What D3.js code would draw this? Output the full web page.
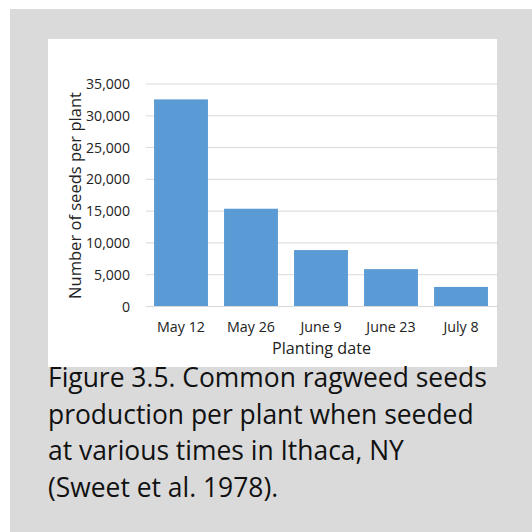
<!DOCTYPE html>
<html>
<head>
<meta charset="utf-8">
<script src="https://cdn.jsdelivr.net/npm/d3@7"></script>
<style>
  html, body { margin: 0; padding: 0; background: #ffffff; }
  svg { display: block; }
</style>
</head>
<body>
<svg id="chart" width="532" height="532"></svg>
<script>
const categories = ["May 12", "May 26", "June 9", "June 23", "July 8"];
const seedsPerPlant = [32500, 15300, 8800, 5800, 3000];
const yTicks = [0, 5000, 10000, 15000, 20000, 25000, 30000, 35000];
const xTitle = "Planting date";
const yTitle = "Number of seeds per plant";
const captionLines = [
  "Figure 3.5. Common ragweed seeds",
  "production per plant when seeded",
  "at various times in Ithaca, NY",
  "(Sweet et al. 1978)."
];

const font = "'Open Sans', Lato, sans-serif";
const svg = d3.select("#chart");

// fit font size of a text selection so its width equals target
function fitSize(sel, target) {
  const node = sel.node();
  const fs = parseFloat(sel.style("font-size"));
  const w = node.getComputedTextLength();
  return fs * target / w;
}

// gray panel
svg.append("rect").attr("x", 10).attr("y", 9).attr("width", 522).attr("height", 523).attr("fill", "#dadada");
// white chart card
svg.append("rect").attr("x", 48).attr("y", 39).attr("width", 449).attr("height", 328).attr("fill", "#ffffff");

const x = d3.scaleBand().domain(categories).range([146, 496]).paddingInner(0.23).paddingOuter(0.115);
const y = d3.scaleLinear().domain([0, 35000]).range([306, 83.5]);

// gridlines + y tick labels
const yAxis = d3.axisLeft(y).tickValues(yTicks).tickSize(-(497 - 146)).tickPadding(16)
  .tickFormat(d3.format(","));
const gy = svg.append("g").attr("transform", "translate(146,0)").call(yAxis);
gy.select(".domain").remove();
gy.selectAll(".tick line").attr("stroke", "#d9d9d9").attr("stroke-width", 1);
gy.selectAll(".tick text").attr("fill", "#222").style("font-family", font).style("font-size", "12px");
{
  const t = gy.selectAll(".tick text").filter(d => d === 35000);
  const fs = fitSize(t, 44);
  gy.selectAll(".tick text").style("font-size", fs + "px").attr("dy", "0.36em");
}

// bars
svg.append("g").selectAll("rect").data(categories).join("rect")
  .attr("x", d => x(d))
  .attr("width", x.bandwidth())
  .attr("y", (d, i) => y(seedsPerPlant[i]))
  .attr("height", (d, i) => y(0) - y(seedsPerPlant[i]))
  .attr("fill", "#5b9bd5");

// x axis labels
const xAxis = d3.axisBottom(x).tickSize(0).tickPadding(0);
const gx = svg.append("g").attr("transform", "translate(0,306)").call(xAxis);
gx.select(".domain").remove();
gx.selectAll(".tick text").attr("fill", "#222").style("font-family", font).style("font-size", "12px");
{
  const t = gx.selectAll(".tick text").filter(d => d === "May 12");
  const fs = fitSize(t, 48);
  gx.selectAll(".tick text").style("font-size", fs + "px").attr("dy", null).attr("y", 26);
}

// axis titles
const xt = svg.append("text").attr("x", 321.5).attr("y", 354).attr("text-anchor", "middle")
  .attr("fill", "#222").style("font-family", font).style("font-size", "14px").text(xTitle);
xt.style("font-size", fitSize(xt, 99) + "px");
const yt = svg.append("text").attr("transform", "translate(80.5,195.5) rotate(-90)").attr("text-anchor", "middle")
  .attr("fill", "#222").style("font-family", font).style("font-size", "15px").text(yTitle);
yt.style("font-size", fitSize(yt, 207) + "px");

// caption
const cap = svg.append("g");
const capTexts = captionLines.map((t, i) =>
  cap.append("text").attr("x", 48).attr("y", 387 + i * 36.7)
    .attr("fill", "#111111").style("font-family", font).style("font-size", "24px").text(t));
const capSize = fitSize(capTexts[0], 439);
capTexts.forEach(s => s.style("font-size", capSize + "px"));
</script>
</body>
</html>
